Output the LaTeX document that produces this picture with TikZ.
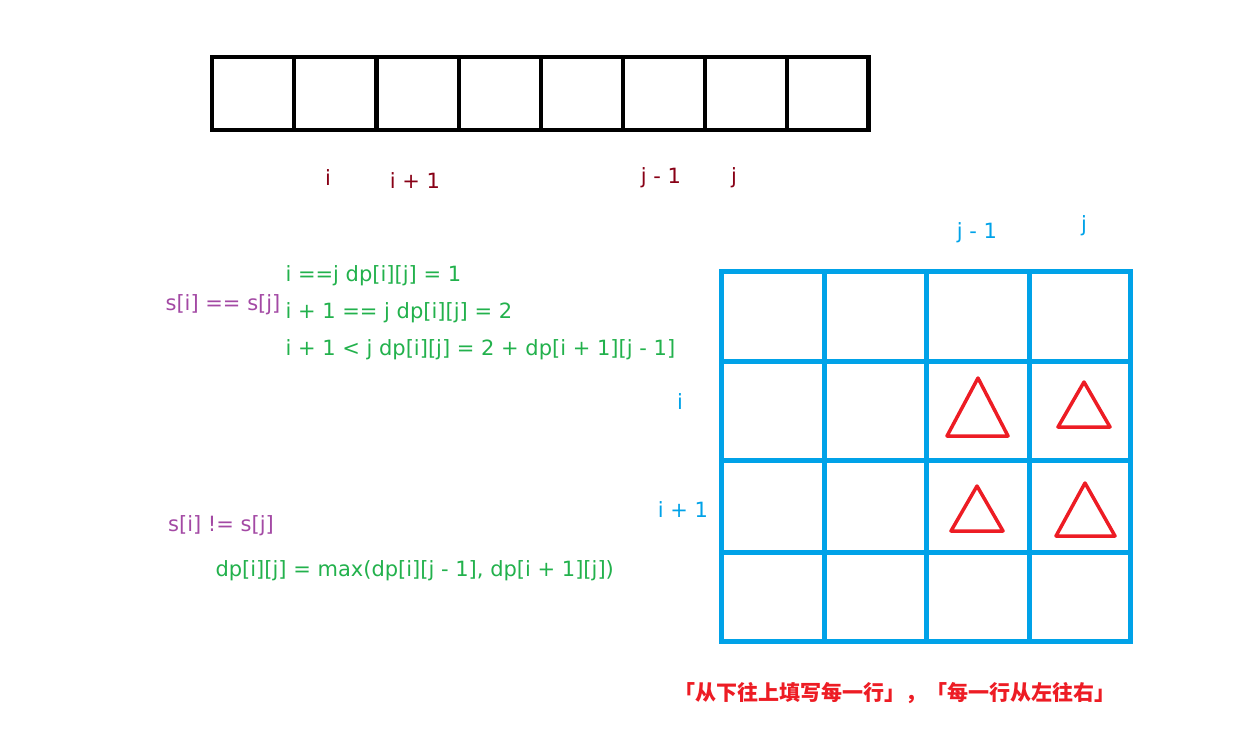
\documentclass[tikz,border=0pt]{standalone}
\usepackage{fontspec}
\setmainfont{DejaVu Sans}
\newfontfamily\cjk{Noto Sans CJK SC}
\definecolor{gridblue}{HTML}{00A2E8}
\definecolor{markred}{HTML}{ED1C24}
\definecolor{labelred}{HTML}{880015}
\definecolor{rulegreen}{HTML}{22B14C}
\definecolor{casepurple}{HTML}{A349A4}
\def\arrtop{57}
\def\arrbot{130}
\def\txtsize{\fontsize{21}{24}\selectfont}

\begin{document}
\begin{tikzpicture}[x=1pt,y=-1pt,
    cellbox/.style={draw=black,line width=4pt},
    gridline/.style={draw=gridblue,line width=5pt,line cap=rect},
    marker/.style={draw=markred,line width=3.5pt,line join=round},
    idxlabel/.style={text=labelred,font=\txtsize},
    gridlabel/.style={text=gridblue,font=\txtsize},
    caselabel/.style={text=casepurple,font=\txtsize},
    rulelabel/.style={text=rulegreen,font=\txtsize,anchor=west}
  ]
    \useasboundingbox (0,0) rectangle (1242,737);

    % array s
    \foreach \x in {212,294,377,459,541,623,705,787} {
      \draw[cellbox] (\x,\arrtop) rectangle ++(82,\arrbot-\arrtop);
    }
    \draw[cellbox] (212,\arrtop) rectangle (868,\arrbot);

    \foreach \name / \x / \y / \txt in {
      i/328/178/i, ione/415/181/i + 1, jone/661/178/j - 1, j/734/178/j} {
      \node[idxlabel] (top-\name) at (\x,\y) {\txt};
    }

    % dp table
    \foreach \x in {721,824,926,1029,1130} {
      \draw[gridline] (\x,271) -- (\x,641);
    }
    \foreach \y in {271,361,460,552,641} {
      \draw[gridline] (721,\y) -- (1130,\y);
    }

    \foreach \name / \x / \y / \txt in {
      jone/977/233/j - 1, j/1084/226/j, i/680/402/i, ione/683/510/i + 1} {
      \node[gridlabel] (dp-\name) at (\x,\y) {\txt};
    }

    % cells used for dp[i][j]
    \draw[marker] (978,378) -- (947,436) -- (1008,436) -- cycle;
    \draw[marker] (1084,382) -- (1058,427) -- (1110,427) -- cycle;
    \draw[marker] (977,486) -- (951,531) -- (1003,531) -- cycle;
    \draw[marker] (1085,483) -- (1056,536) -- (1115,536) -- cycle;

    % transitions
    \node[caselabel] (eq) at (223,305) {s[i] == s[j]};
    \node[rulelabel] (eqa) at (282,276) {i ==j dp[i][j] = 1};
    \node[rulelabel] (eqb) at (282,313) {i + 1 == j dp[i][j] = 2};
    \node[rulelabel] (eqc) at (282,350) {i + 1 < j dp[i][j] = 2 + dp[i + 1][j - 1]};

    \node[caselabel] (neq) at (221,526) {s[i] != s[j]};
    \node[rulelabel] (neqa) at (212,571) {dp[i][j] = max(dp[i][j - 1], dp[i + 1][j])};

    \node[text=markred,font=\cjk\fontsize{21}{24}\selectfont\bfseries] (order) at (895,693)
      {「从下往上填写每一行」，「每一行从左往右」};
\end{tikzpicture}
\end{document}
